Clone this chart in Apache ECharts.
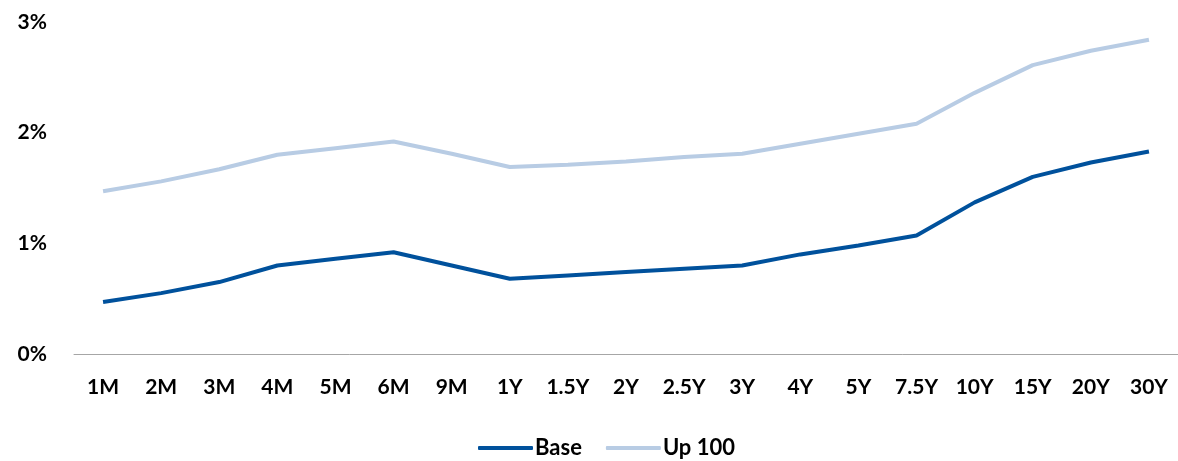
<!DOCTYPE html>
<html>
<head>
<meta charset="utf-8">
<script src="https://cdn.jsdelivr.net/npm/echarts@6/dist/echarts.min.js"></script>
<style>
  html, body { margin: 0; padding: 0; background: #fff; }
  #chart { width: 1178px; height: 461px; }
</style>
</head>
<body>
<div id="chart"></div>
<script>
// tenors along the curve
var tenors = ['1M', '2M', '3M', '4M', '5M', '6M', '9M', '1Y', '1.5Y', '2Y', '2.5Y', '3Y', '4Y', '5Y', '7.5Y', '10Y', '15Y', '20Y', '30Y'];
// rates in %
var baseRates = [0.47, 0.55, 0.65, 0.80, 0.86, 0.92, 0.80, 0.68, 0.71, 0.74, 0.77, 0.80, 0.90, 0.98, 1.07, 1.37, 1.60, 1.73, 1.83];
var up100Rates = [1.47, 1.56, 1.67, 1.80, 1.86, 1.92, 1.81, 1.69, 1.71, 1.74, 1.78, 1.81, 1.90, 1.99, 2.08, 2.36, 2.61, 2.74, 2.84];
var yTicks = [0, 1, 2, 3];

var font = 'Lato, "Open Sans", sans-serif';
var chart = echarts.init(document.getElementById('chart'));

chart.setOption({
  animation: false,
  grid: { left: 74, top: 22, width: 1111, height: 332 },
  legend: {
    top: 432,
    left: 473,
    itemWidth: 55,
    itemHeight: 4,
    itemGap: 24,
    icon: 'roundRect',
    textStyle: { fontFamily: font, fontWeight: 'bold', fontSize: 22, color: '#000', padding: [0, 0, 0, -3] },
    data: ['Base', 'Up 100']
  },
  xAxis: {
    type: 'category',
    data: tenors,
    boundaryGap: true,
    axisLine: { lineStyle: { color: '#a6a6a6', width: 1 } },
    axisTick: { show: false },
    axisLabel: { fontFamily: font, fontWeight: 'bold', fontSize: 21, color: '#000', margin: 23, interval: 0 }
  },
  yAxis: {
    type: 'value',
    min: yTicks[0],
    max: yTicks[yTicks.length - 1],
    interval: 1,
    splitLine: { show: false },
    axisLine: { show: false },
    axisTick: { show: false },
    axisLabel: {
      fontFamily: font, fontWeight: 'bold', fontSize: 21, color: '#000', margin: 27,
      formatter: function (v) { return v + '%'; }
    }
  },
  series: [
    {
      name: 'Base', type: 'line', data: baseRates, symbol: 'none',
      lineStyle: { color: '#00519c', width: 4 }, itemStyle: { color: '#00519c' }
    },
    {
      name: 'Up 100', type: 'line', data: up100Rates, symbol: 'none',
      lineStyle: { color: '#b8cce4', width: 4 }, itemStyle: { color: '#b8cce4' }
    }
  ]
});
</script>
</body>
</html>
